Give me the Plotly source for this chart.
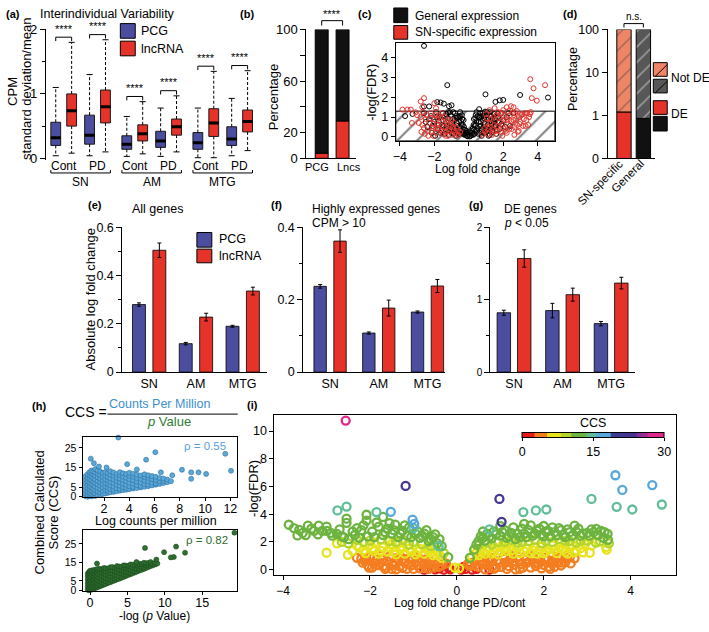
import plotly.graph_objects as go

W, H = 709, 632
FONT = "Liberation Sans, Arial, Helvetica, sans-serif"
BLUE = "#4b4d9e"
RED = "#e5332a"
BLACK = "#111111"
SALMON = "#ef8567"
GREY = "#575757"

# ---------------- (a) interindividual variability: box statistics ----------------
a_conditions = ["Cont", "PD", "Cont", "PD", "Cont", "PD"]
a_regions = ["SN", "AM", "MTG"]
a_pcg_lower = [0.04, 0.04, 0.03, 0.03, 0.01, 0.04]
a_pcg_q1 = [0.20, 0.22, 0.14, 0.17, 0.14, 0.20]
a_pcg_median = [0.32, 0.36, 0.22, 0.27, 0.24, 0.30]
a_pcg_q3 = [0.56, 0.67, 0.35, 0.42, 0.40, 0.49]
a_pcg_upper = [1.10, 1.30, 0.65, 0.78, 0.78, 0.93]
a_lnc_lower = [0.08, 0.10, 0.07, 0.10, 0.01, 0.12]
a_lnc_q1 = [0.50, 0.55, 0.27, 0.36, 0.34, 0.41]
a_lnc_median = [0.74, 0.80, 0.38, 0.49, 0.55, 0.57]
a_lnc_q3 = [1.00, 1.06, 0.52, 0.61, 0.77, 0.75]
a_lnc_upper = [1.80, 1.84, 0.88, 0.97, 1.35, 1.36]
a_significance = ["****", "****", "****", "****", "****", "****"]

# ---------------- (b) percentage of SN-specific expression ----------------
b_categories = ["PCG", "Lncs"]
b_sn_specific = [4, 29]
b_general = [96, 71]

# ---------------- (c) volcano, general vs SN-specific ----------------
c_fdr_threshold = 1.3
c_general_points = [
    (-2.6, 4.61), (-1.25, 2.62), (0.97, 2.15), (2.98, 2.12), (4.6, 1.99), (1.55, 1.77), (1.8, 1.85),
    (2.0, 1.87), (-2.6, 1.54), (-2.3, 1.54), (-1.83, 1.76), (-1.64, 1.74), (-1.45, 1.68), (-1.15, 1.55),
    (-1.0, 1.6), (-3.7, 1.05), (-3.27, 1.16), (0.6, 1.4),
    (-0.1, 0.05), (0.1, 0.05), (-0.2, 0.2), (0.2, 0.2), (-0.3, 0.35), (0.3, 0.35), (-0.35, 0.6),
    (0.35, 0.55), (-0.45, 0.8), (0.45, 0.8), (-0.5, 0.5), (0.5, 0.45), (-0.6, 1.0), (0.6, 1.0),
    (-0.65, 0.3), (0.65, 0.3), (-0.7, 0.7), (0.7, 0.75), (-0.8, 1.2), (0.8, 1.2), (-0.85, 0.45),
    (0.85, 0.5), (-0.9, 0.9), (0.9, 0.95), (-1.0, 0.2), (1.0, 0.25), (-1.05, 1.1), (1.05, 1.1),
    (-1.1, 0.65), (1.1, 0.6), (-1.2, 1.25), (1.2, 1.25), (-1.3, 0.4), (1.3, 0.4), (-1.35, 0.9),
    (1.35, 0.9), (-1.5, 1.2), (1.5, 1.15), (-1.55, 0.6), (1.55, 0.6), (-1.7, 1.0), (1.7, 1.0),
    (-1.8, 0.35), (1.8, 0.4), (-1.9, 1.25), (1.9, 1.2), (-2.0, 0.75), (2.0, 0.8), (-2.2, 1.05),
    (2.2, 1.0), (-2.4, 0.5), (2.4, 0.55), (-2.6, 1.2), (2.6, 1.2), (-0.25, 0.1), (0.25, 0.1),
    (-0.55, 0.15), (0.55, 0.15), (-0.4, 1.1), (0.4, 1.1), (-0.75, 0.05), (0.75, 0.05), (-1.15, 0.1),
    (1.6, 0.15), (-0.15, 0.3), (0.15, 0.3), (-0.95, 0.35), (0.95, 1.28), (-1.45, 0.55), (1.45, 0.75),
    (-1.65, 0.2), (1.25, 0.8), (-0.5, 1.25), (0.45, 1.25), (-0.3, 0.85), (0.3, 0.9),
    (-1.95, 0.05), (-1.75, 0.6), (-1.6, 0.3), (-1.4, 0.15), (-1.25, 0.55), (-1.2, 0.95), (-1.05, 0.4),
    (-0.98, 0.7), (-0.9, 0.15), (-0.82, 0.85), (-0.78, 0.4), (-0.72, 1.05), (-0.68, 0.55), (-0.62, 0.2),
    (-0.58, 0.78), (-0.52, 1.05), (-0.48, 0.3), (-0.42, 0.6), (-0.38, 0.9), (-0.33, 0.15), (-0.28, 0.5),
    (-0.22, 0.35), (-0.18, 0.1), (-0.12, 0.2), (-0.06, 0.02), (0.06, 0.02), (0.12, 0.2), (0.18, 0.1),
    (0.22, 0.4), (0.28, 0.6), (0.33, 0.15), (0.38, 0.95), (0.42, 0.6), (0.48, 0.3), (0.52, 1.05),
    (0.58, 0.75), (0.62, 0.2), (0.68, 0.55), (0.72, 1.05), (0.78, 0.4), (0.82, 0.85), (0.88, 0.2),
    (0.92, 0.65), (0.98, 0.4), (1.02, 0.95), (1.08, 0.3), (1.12, 0.85), (1.18, 0.5), (1.22, 0.1),
    (1.28, 1.05), (1.32, 0.65), (1.38, 0.25), (1.42, 1.2), (1.48, 0.5), (1.52, 0.9), (1.62, 0.35),
    (1.68, 1.2), (1.75, 0.7), (-1.85, 1.0), (-2.1, 0.55), (-2.3, 0.9), (-2.5, 0.75), (-2.15, 0.2),
    (-1.5, 0.85), (-1.3, 1.15), (-1.1, 1.25), (-0.9, 1.25), (-0.7, 0.95), (0.65, 1.2), (0.85, 1.05),
    (1.05, 1.25), (1.15, 0.05), (2.1, 0.5), (2.3, 1.2), (1.9, 0.65),
]
c_sn_specific_points = [
    (-3.85, 1.38), (-3.56, 1.38), (-3.37, 1.38), (-3.08, 1.24), (-2.79, 1.79), (-2.6, 1.96),
    (-2.7, 1.5), (-2.0, 1.7), (-1.9, 1.45), (-3.3, 0.7),
    (-2.8, 1.0), (-2.7, 0.6), (-2.5, 0.9), (-2.4, 0.3), (-2.3, 0.7), (-2.2, 1.2), (-2.1, 0.45),
    (-2.0, 0.9), (-1.9, 0.2), (-1.85, 0.6), (-1.75, 1.1), (-1.7, 0.35), (-1.6, 0.8), (-1.5, 0.15),
    (-1.45, 0.5), (-1.4, 1.0), (-1.3, 0.25), (-1.25, 0.7), (-1.2, 0.05), (-1.1, 0.4), (-1.0, 0.85),
    (-0.95, 0.1), (-0.9, 0.5), (-0.8, 0.2), (-0.7, 0.45), (-0.6, 0.1), (-0.5, 0.25), (-2.55, 0.15),
    (-2.05, 0.05), (-1.55, 1.2),
    (-2.6, 0.45), (-2.45, 1.1), (-2.35, 0.05), (-2.25, 0.95), (-2.15, 0.3), (-2.05, 0.65), (-1.95, 1.1),
    (-1.8, 0.45), (-1.65, 0.95), (-1.55, 0.3), (-1.4, 0.65), (-1.35, 0.05), (-1.2, 0.85), (-1.15, 0.3),
    (-1.05, 0.55), (-0.85, 0.7), (-0.75, 0.1), (-0.65, 0.3), (-2.9, 0.7), (-2.75, 0.25), (-2.65, 1.25),
    (-3.0, 1.1),
    (0.8, 0.1), (0.9, 0.4), (1.0, 0.7), (1.1, 0.15), (1.2, 0.5), (1.3, 0.9), (1.4, 0.2), (1.5, 0.6),
    (1.6, 1.1), (1.7, 0.3), (1.8, 0.75), (1.9, 1.2), (2.0, 0.45), (2.1, 0.9), (2.2, 0.2), (2.3, 0.65),
    (2.4, 1.1), (2.5, 0.4), (2.6, 0.85), (2.7, 1.2), (2.8, 0.6), (2.9, 1.0), (3.0, 0.75), (3.1, 1.15),
    (3.2, 0.9), (3.4, 1.2), (3.5, 1.0), (2.6, 1.5), (2.0, 1.35), (3.6, 1.25), (2.45, 1.55), (2.2, 1.5),
    (1.5, 1.45), (1.2, 1.35), (2.9, 0.3), (3.3, 0.55), (2.65, 0.1), (1.95, 0.05),
    (0.95, 0.25), (1.05, 0.95), (1.15, 0.4), (1.25, 0.7), (1.35, 0.1), (1.45, 1.0), (1.55, 0.3),
    (1.65, 0.55), (1.75, 0.95), (1.85, 0.25), (1.95, 0.6), (2.05, 1.05), (2.15, 0.3), (2.25, 0.85),
    (2.35, 0.4), (2.45, 0.8), (2.55, 1.2), (2.65, 0.5), (2.75, 0.9), (2.85, 0.25), (2.95, 0.65),
    (3.05, 1.1), (3.15, 0.55), (3.25, 1.2), (3.35, 0.85), (3.45, 0.6), (3.55, 1.15), (1.0, 1.15),
    (1.7, 1.25), (2.3, 1.3), (2.8, 1.3),
    (3.57, 2.92), (3.76, 2.46), (4.43, 2.62), (3.66, 1.96), (3.95, 1.83),
]

# ---------------- (d) DE fraction ----------------
d_categories = ["SN-specific", "General"]
d_de_pct = [1.2, 0.85]
d_not_de_pct = [98.8, 99.15]

# ---------------- (e)-(g) absolute log fold change ----------------
efg_regions = ["SN", "AM", "MTG"]
e_pcg = [0.280, 0.118, 0.190]
e_pcg_err = [0.007, 0.005, 0.004]
e_lnc = [0.505, 0.228, 0.336]
e_lnc_err = [0.030, 0.016, 0.016]
f_pcg = [0.237, 0.108, 0.166]
f_pcg_err = [0.005, 0.003, 0.003]
f_lnc = [0.362, 0.177, 0.238]
f_lnc_err = [0.031, 0.022, 0.018]
g_pcg = [0.82, 0.85, 0.67]
g_pcg_err = [0.035, 0.10, 0.03]
g_lnc = [1.57, 1.07, 1.23]
g_lnc_err = [0.12, 0.09, 0.08]

# ---------------- (h) CCS vs log CPM and vs -log p ----------------
h_rho_cpm = "ρ = 0.55"
h_rho_p = "ρ = 0.82"
h_cpm_columns = {
    0.55: [0.3, 1.8, 3.5, 5.2, 7.0, 8.8, 10.6], 0.7: [0.0, 1.0, 2.6, 4.3, 6.1, 7.9, 9.7, 11.5],
    0.85: [0.5, 2.0, 3.7, 5.5, 7.3, 9.1, 11.0, 12.6], 1.0: [0.2, 1.4, 3.1, 4.8, 6.6, 8.4, 10.3, 12.1, 13.4],
    1.15: [0.8, 2.4, 4.1, 5.9, 7.7, 9.5, 11.4, 13.0], 1.3: [0.4, 1.7, 3.4, 5.2, 7.0, 8.8, 10.7, 12.5, 14.2],
    1.5: [1.0, 2.7, 4.5, 6.3, 8.1, 9.9, 11.8, 13.4], 1.7: [0.9, 2.2, 3.9, 5.7, 7.5, 9.3, 11.2, 13.0],
    1.9: [1.4, 3.0, 4.8, 6.6, 8.4, 10.3, 12.2], 2.1: [1.7, 3.5, 5.3, 7.1, 9.0, 10.8, 12.6],
    2.3: [2.0, 3.0, 4.7, 6.5, 8.3, 10.1, 12.0], 2.5: [2.3, 4.0, 5.8, 7.6, 9.4, 11.3, 13.1],
    2.75: [2.5, 3.6, 5.3, 7.1, 8.9, 10.7, 12.4], 3.0: [2.8, 4.4, 6.2, 8.0, 9.8, 11.6],
    3.25: [3.1, 4.0, 5.7, 7.5, 9.3, 11.2, 12.6], 3.5: [3.4, 4.9, 6.7, 8.5, 10.3, 12.0],
    3.75: [3.6, 4.5, 6.2, 8.0, 9.8, 11.6], 4.0: [3.9, 5.4, 7.2, 9.0, 10.8, 12.3],
    4.3: [4.2, 5.0, 6.7, 8.5, 10.3, 11.8], 4.6: [4.5, 6.0, 7.8, 9.6, 11.3],
    4.9: [4.8, 5.6, 7.3, 9.1, 10.9], 5.2: [5.1, 6.5, 8.3, 10.1, 11.5], 5.5: [5.4, 6.2, 7.9, 9.7, 11.0],
    5.8: [5.8, 7.2, 9.0, 10.6], 6.1: [6.2, 7.0, 8.6, 10.2], 6.4: [6.6, 8.0, 9.6], 6.7: [7.0, 8.2, 9.4],
    7.0: [7.5, 8.8], 7.3: [8.0],
}
h_cpm_outliers = [(3.13, 30.3), (6.06, 22.8), (5.33, 19.0), (0.95, 19.5), (1.2, 17.2), (3.83, 16.7),
                  (8.17, 13.8), (8.9, 12.5), (9.48, 12.5), (10.08, 11.7), (8.9, 9.2), (11.6, 22.0),
                  (12.05, 13.3), (2.2, 15.0), (4.6, 14.0), (6.5, 12.5), (7.4, 11.0), (1.6, 15.5)]
h_p_columns = {
    -0.3: [0.3, 2.0, 3.8, 5.6, 7.4, 9.0], -0.15: [0.0, 1.1, 2.9, 4.7, 6.5, 8.3, 9.8],
    0.0: [0.5, 2.0, 3.8, 5.6, 7.4, 9.2, 10.5], 0.15: [0.3, 1.4, 3.2, 5.0, 6.8, 8.6, 10.2],
    0.3: [0.6, 2.4, 4.2, 6.0, 7.8, 9.6, 10.8], 0.5: [0.9, 1.8, 3.6, 5.4, 7.2, 9.0, 10.5],
    0.7: [1.2, 2.8, 4.6, 6.4, 8.2, 10.0, 11.2], 0.9: [1.5, 2.3, 4.1, 5.9, 7.7, 9.5, 10.9],
    1.1: [1.8, 3.3, 5.1, 6.9, 8.7, 10.5, 11.6], 1.35: [2.2, 3.0, 4.7, 6.5, 8.3, 10.1, 11.5],
    1.6: [2.6, 4.0, 5.8, 7.6, 9.4, 11.2], 1.85: [3.0, 3.8, 5.4, 7.2, 9.0, 10.8, 12.0],
    2.1: [3.4, 4.8, 6.6, 8.4, 10.2, 11.8], 2.4: [3.9, 4.6, 6.3, 8.1, 9.9, 11.7],
    2.7: [4.3, 5.6, 7.4, 9.2, 11.0, 12.4], 3.0: [4.8, 5.5, 7.2, 9.0, 10.8, 12.5],
    3.3: [5.3, 6.6, 8.4, 10.2, 12.0], 3.6: [5.8, 6.4, 8.1, 9.9, 11.7, 13.0],
    3.9: [6.2, 7.5, 9.3, 11.1, 12.8], 4.2: [6.7, 7.3, 9.0, 10.8, 12.6],
    4.5: [7.2, 8.5, 10.3, 12.1, 13.4], 4.8: [7.7, 8.3, 10.0, 11.8, 13.3], 5.1: [8.2, 9.5, 11.3, 13.1],
    5.4: [8.6, 9.3, 11.0, 12.8, 13.9], 5.7: [9.1, 10.4, 12.2, 13.8], 6.0: [9.6, 10.3, 12.0, 13.6],
    6.3: [10.1, 11.4, 13.2, 14.2], 6.6: [10.6, 11.3, 13.0, 14.3], 6.9: [11.0, 12.3, 14.0],
    7.2: [11.5, 12.2, 13.9, 14.8], 7.5: [12.0, 13.2, 14.6], 7.8: [12.5, 13.3, 14.7],
    8.1: [13.0, 14.2, 15.2], 8.4: [13.4, 14.1], 8.7: [13.9, 14.8], 9.0: [14.4],
}
h_p_outliers = [(19.3, 31.0), (7.35, 22.8), (11.5, 23.5), (9.9, 20.5), (12.7, 20.2), (11.2, 17.9),
                (10.8, 17.7), (8.86, 16.5), (0.93, 14.4), (6.2, 15.2)]

# ---------------- (i) volcano coloured by CCS: (log FC, -log FDR, CCS) ----------------
i_points = [
    # red
    (-0.5, 0.02, 1), (-0.4, 0.1, 1), (-0.3, 0.0, 1), (-0.2, 0.15, 1), (-0.15, 0.02, 1), (0.1, 0.0, 1),
    (0.15, 0.2, 1), (0.2, 0.05, 1), (0.35, 0.0, 1), (0.45, 0.05, 1), (-0.75, 0.0, 1), (0.75, 0.0, 1),
    # orange
    (-2.2, 0.8, 4), (-2.17, 0.5, 4), (-2.05, 0.3, 4), (-2.0, 0.9, 4), (-1.9, 0.45, 4), (-1.85, 0.7, 4),
    (-1.75, 1.0, 4), (-1.7, 0.25, 4), (-1.6, 0.6, 4), (-1.55, 0.95, 4), (-1.5, 0.05, 4), (-1.45, 0.35, 4),
    (-1.35, 0.7, 4), (-1.3, 0.95, 4), (-1.25, 0.12, 4), (-1.2, 0.5, 4), (-1.1, 0.82, 4), (-1.05, 0.3, 4),
    (-1.0, 0.05, 4), (-0.95, 0.95, 4), (-0.9, 0.6, 4), (-0.85, 0.1, 4), (-0.75, 0.35, 4), (-0.7, 0.75, 4),
    (-0.6, 0.45, 4), (-0.55, 0.15, 4), (-0.45, 0.55, 4), (-0.35, 0.3, 4), (-0.25, 0.45, 4),
    (-1.65, 0.05, 4), (-1.4, 0.02, 4), (-1.15, 0.05, 4), (-0.65, 0.05, 4), (-2.3, 0.85, 4), (-1.95, 0.15, 4),
    (0.25, 0.4, 4), (0.3, 0.25, 4), (0.4, 0.55, 4), (0.5, 0.2, 4), (0.55, 0.9, 4), (0.6, 0.6, 4),
    (0.7, 0.35, 4), (0.8, 0.85, 4), (0.85, 0.05, 4), (0.9, 0.15, 4), (1.0, 0.5, 4), (1.1, 0.8, 4),
    (1.15, 0.05, 4), (1.2, 0.25, 4), (1.25, 1.0, 4), (1.3, 0.6, 4), (1.4, 0.95, 4), (1.45, 0.05, 4),
    (1.5, 0.4, 4), (1.6, 0.75, 4), (1.7, 0.15, 4), (1.75, 1.0, 4), (1.8, 0.5, 4), (1.9, 0.9, 4),
    (1.95, 0.1, 4), (2.0, 0.35, 4), (2.1, 0.7, 4), (2.2, 1.0, 4), (2.25, 0.2, 4), (2.3, 0.5, 4),
    (2.4, 0.85, 4), (2.5, 0.55, 4), (2.6, 0.9, 4), (2.71, 0.82, 4), (2.4, 0.3, 4), (0.65, 0.02, 4),
    (1.35, 0.02, 4), (2.15, 0.05, 4),
    (-2.12, 0.62, 4), (-2.02, 0.15, 4), (-1.92, 0.85, 4), (-1.82, 0.32, 4), (-1.72, 0.72, 4),
    (-1.62, 0.15, 4), (-1.52, 0.78, 4), (-1.42, 0.5, 4), (-1.32, 0.25, 4), (-1.22, 0.78, 4),
    (-1.12, 0.4, 4), (-1.02, 0.7, 4), (-0.92, 0.32, 4), (-0.82, 0.55, 4), (-0.72, 0.18, 4),
    (-0.62, 0.62, 4), (-0.52, 0.38, 4), (-0.42, 0.2, 4), (-0.32, 0.55, 4),
    (0.32, 0.45, 4), (0.42, 0.3, 4), (0.52, 0.6, 4), (0.62, 0.4, 4), (0.72, 0.75, 4), (0.82, 0.25, 4),
    (0.92, 0.6, 4), (1.02, 0.2, 4), (1.12, 0.5, 4), (1.22, 0.7, 4), (1.32, 0.35, 4), (1.42, 0.7, 4),
    (1.52, 0.15, 4), (1.62, 0.5, 4), (1.72, 0.85, 4), (1.82, 0.25, 4), (1.92, 0.6, 4), (2.02, 0.85, 4),
    (2.12, 0.2, 4), (2.22, 0.65, 4), (2.32, 0.9, 4), (2.42, 0.5, 4), (2.52, 0.8, 4), (2.62, 0.45, 4),
    (2.18, 0.45, 4), (1.88, 0.4, 4), (1.58, 0.95, 4), (1.08, 0.95, 4), (0.78, 0.55, 4), (-0.88, 0.85, 4),
    (-1.38, 0.85, 4), (-1.78, 0.5, 4), (-2.08, 0.75, 4),
    # yellow
    (-0.05, 0.15, 7), (0.05, 0.1, 7),
    (-3.0, 1.22, 7), (-2.76, 1.9, 7), (-2.51, 1.07, 7), (-2.4, 1.35, 7), (-2.25, 1.6, 7), (-2.1, 1.2, 7),
    (-2.0, 1.8, 7), (-1.9, 1.35, 7), (-1.8, 1.15, 7), (-1.7, 1.6, 7), (-1.6, 1.3, 7), (-1.5, 1.85, 7),
    (-1.4, 1.1, 7), (-1.3, 1.45, 7), (-1.2, 1.15, 7), (-1.15, 1.75, 7), (-1.05, 1.3, 7), (-0.95, 1.1, 7),
    (-0.85, 1.5, 7), (-0.75, 1.15, 7), (-0.65, 1.35, 7), (-0.55, 1.05, 7), (-0.45, 1.25, 7), (-0.35, 0.85, 7),
    (-1.35, 1.9, 7), (-1.9, 1.95, 7),
    (0.35, 0.95, 7), (0.45, 1.2, 7), (0.55, 1.45, 7), (0.65, 1.15, 7), (0.75, 1.6, 7), (0.85, 1.3, 7),
    (0.95, 1.1, 7), (1.05, 1.75, 7), (1.15, 1.35, 7), (1.3, 1.15, 7), (1.4, 1.6, 7), (1.55, 1.3, 7),
    (1.65, 1.8, 7), (1.75, 1.4, 7), (1.85, 1.15, 7), (1.95, 1.65, 7), (2.05, 1.3, 7), (2.2, 1.75, 7),
    (2.3, 1.2, 7), (2.45, 1.5, 7), (2.55, 1.15, 7), (2.65, 1.8, 7), (2.75, 1.4, 7), (2.9, 1.25, 7),
    (3.06, 1.22, 7), (3.1, 1.75, 7), (3.44, 1.64, 7), (3.45, 1.45, 7), (2.95, 1.85, 7), (1.2, 1.95, 7),
    (2.4, 1.95, 7),
    (-2.3, 1.75, 7), (-2.15, 1.4, 7), (-1.95, 1.55, 7), (-1.75, 1.35, 7), (-1.55, 1.6, 7), (-1.45, 1.3, 7),
    (-1.25, 1.65, 7), (-1.1, 1.5, 7), (-0.9, 1.3, 7), (-0.7, 1.55, 7), (-0.6, 1.25, 7), (-0.5, 1.5, 7),
    (-0.4, 1.05, 7), (0.4, 1.4, 7), (0.5, 1.05, 7), (0.6, 1.3, 7), (0.7, 1.4, 7), (0.8, 1.15, 7),
    (0.9, 1.55, 7), (1.0, 1.35, 7), (1.1, 1.55, 7), (1.25, 1.4, 7), (1.35, 1.8, 7), (1.45, 1.2, 7),
    (1.6, 1.55, 7), (1.7, 1.2, 7), (1.8, 1.6, 7), (1.9, 1.4, 7), (2.0, 1.2, 7), (2.1, 1.5, 7),
    (2.25, 1.45, 7), (2.35, 1.6, 7), (2.5, 1.3, 7), (2.6, 1.55, 7), (2.7, 1.25, 7), (2.85, 1.55, 7),
    # yellow-green
    (-2.65, 2.0, 9.5), (-2.3, 2.15, 9.5), (-2.0, 2.1, 9.5), (-1.75, 2.2, 9.5), (-1.55, 2.05, 9.5),
    (-1.25, 2.15, 9.5), (-1.0, 2.0, 9.5), (-0.8, 1.85, 9.5), (-0.6, 1.7, 9.5), (-0.3, 1.2, 9.5),
    (0.5, 1.75, 9.5), (0.7, 1.95, 9.5), (0.95, 2.0, 9.5), (1.25, 2.15, 9.5), (1.5, 2.0, 9.5),
    (1.8, 2.15, 9.5), (2.05, 2.05, 9.5), (2.35, 2.2, 9.5), (2.6, 2.05, 9.5), (2.85, 2.1, 9.5),
    (3.3, 2.05, 9.5), (3.5, 1.9, 9.5), (-2.5, 1.9, 9.5), (-2.15, 2.0, 9.5), (-1.4, 2.0, 9.5),
    (-1.1, 1.8, 9.5), (0.8, 1.8, 9.5), (1.1, 2.0, 9.5), (1.4, 1.95, 9.5), (1.65, 2.05, 9.5),
    (1.95, 1.9, 9.5), (2.2, 2.0, 9.5), (2.5, 2.1, 9.5), (2.75, 1.95, 9.5), (3.0, 2.1, 9.5), (3.2, 1.95, 9.5),
    # green
    (-3.87, 3.24, 12), (-3.63, 2.87, 12), (-3.67, 2.47, 12), (-3.48, 2.5, 12), (-3.43, 3.17, 12),
    (-3.29, 2.8, 12), (-3.18, 3.17, 12), (-3.1, 2.8, 12), (-2.99, 2.8, 12), (-2.87, 2.45, 12),
    (-2.76, 2.57, 12), (-2.6, 2.33, 12), (-2.49, 2.2, 12), (-2.54, 3.68, 12), (-2.54, 3.38, 12),
    (-2.08, 3.96, 12), (-2.08, 3.54, 12), (-2.35, 2.5, 12), (-2.2, 2.85, 12), (-2.05, 2.4, 12),
    (-1.95, 2.75, 12), (-1.8, 3.1, 12), (-1.7, 2.5, 12), (-1.6, 2.95, 12), (-1.5, 2.6, 12),
    (-1.42, 3.25, 12), (-1.35, 2.35, 12), (-1.25, 2.8, 12), (-1.15, 2.45, 12), (-1.1, 3.05, 12),
    (-0.95, 2.6, 12), (-0.85, 2.3, 12), (-0.75, 2.6, 12), (-0.65, 2.05, 12), (-0.55, 2.35, 12),
    (-0.45, 1.9, 12), (-0.2, 0.9, 12), (-1.7, 3.8, 12), (-2.3, 3.0, 12),
    (0.3, 0.85, 12), (0.4, 1.45, 12), (0.5, 2.05, 12), (0.6, 2.3, 12), (0.7, 2.6, 12), (0.8, 2.25, 12),
    (0.85, 2.75, 12), (1.0, 2.45, 12), (1.1, 2.85, 12), (1.2, 2.4, 12), (1.3, 3.05, 12), (1.4, 2.6, 12),
    (1.5, 2.95, 12), (1.6, 2.35, 12), (1.7, 3.2, 12), (1.8, 2.6, 12), (1.9, 2.95, 12), (2.0, 2.4, 12),
    (2.1, 2.8, 12), (2.2, 3.05, 12), (2.3, 2.5, 12), (2.4, 2.85, 12), (2.5, 2.35, 12), (2.6, 2.7, 12),
    (2.71, 3.17, 12), (2.75, 2.75, 12), (2.85, 2.45, 12), (3.0, 2.65, 12), (3.1, 2.9, 12),
    (3.21, 2.94, 12), (3.32, 2.8, 12), (3.47, 2.58, 12), (3.38, 2.3, 12), (3.48, 2.15, 12), (1.35, 2.2, 12),
    (-3.75, 3.0, 12), (-3.55, 2.65, 12), (-3.35, 2.95, 12), (-3.2, 2.55, 12), (-3.0, 3.1, 12),
    (-2.9, 2.65, 12), (-2.7, 2.9, 12), (-2.65, 2.4, 12), (-2.4, 2.75, 12), (-2.25, 2.3, 12),
    (-2.15, 3.2, 12), (-1.9, 2.35, 12), (-1.85, 3.4, 12), (-1.65, 2.7, 12), (-1.55, 3.35, 12),
    (-1.45, 2.85, 12), (-1.3, 2.6, 12), (-1.2, 3.2, 12), (-1.05, 2.35, 12), (-0.9, 2.75, 12),
    (-0.8, 2.45, 12), (-0.7, 2.85, 12), (-0.6, 2.2, 12), (-0.5, 2.55, 12), (-0.4, 2.2, 12), (-0.35, 1.7, 12),
    (0.45, 1.8, 12), (0.55, 2.4, 12), (0.65, 2.1, 12), (0.75, 2.4, 12), (0.9, 2.55, 12), (1.05, 2.7, 12),
    (1.15, 2.3, 12), (1.25, 2.65, 12), (1.45, 2.35, 12), (1.55, 2.6, 12), (1.65, 2.85, 12), (1.75, 2.45, 12),
    (1.85, 2.8, 12), (1.95, 2.55, 12), (2.05, 2.75, 12), (2.15, 2.4, 12), (2.25, 2.7, 12), (2.35, 3.0, 12),
    (2.45, 2.5, 12), (2.55, 2.9, 12), (2.65, 2.45, 12), (2.8, 2.95, 12), (2.9, 2.6, 12), (3.05, 2.45, 12),
    (3.15, 2.7, 12), (3.25, 2.5, 12), (3.4, 2.7, 12), (1.0, 3.15, 12), (1.55, 3.3, 12), (2.0, 3.15, 12),
    (0.6, 2.75, 12),
    # teal
    (-2.75, 4.27, 14.5), (-2.54, 4.55, 14.5), (-1.85, 4.15, 14), (1.53, 4.15, 14.5), (1.82, 4.27, 14.5),
    (2.06, 4.34, 14.5), (3.1, 5.1, 14), (3.68, 4.53, 14.5), (4.04, 4.34, 14.5), (4.72, 4.7, 14.5),
    (-0.42, 1.69, 14.5), (0.75, 2.9, 15), (-1.0, 3.0, 15),
    # light blue
    (-1.52, 4.17, 18), (-1.02, 3.61, 17.5), (3.65, 6.81, 18), (3.81, 5.75, 18), (4.5, 6.1, 17.5),
    (-0.98, 3.3, 16.5),
    # indigo
    (-1.18, 6.04, 22), (0.98, 5.1, 22), (1.03, 3.45, 21.5),
    # magenta
    (-2.56, 10.75, 29),
]
i_ccs_ticks = [0, 15, 30]

# ---------------- helpers ----------------
def xdom(a, b):
    return [a / W, b / W]

def ydom(top, bottom):
    return [1 - bottom / H, 1 - top / H]

def px(x):
    return x / W

def py(y):
    return 1 - y / H

def amap(dom, rng, v):
    return dom[0] + (v - rng[0]) / (rng[1] - rng[0]) * (dom[1] - dom[0])

anns = []
shapes = []

def T(text, x, y, size=12, color="black", xanchor="center", yanchor="middle", angle=0, xref="paper", yref="paper"):
    anns.append(dict(text=text, x=(x / W if xref == "paper" else x), y=(1 - y / H if yref == "paper" else y),
                     xref=xref, yref=yref, showarrow=False, xanchor=xanchor, yanchor=yanchor,
                     textangle=angle, font=dict(size=size, color=color, family=FONT)))

def L(x0, y0, x1, y1, color="black", width=1):
    shapes.append(dict(type="line", xref="paper", yref="paper", x0=px(x0), y0=py(y0), x1=px(x1), y1=py(y1),
                       line=dict(color=color, width=width)))

def R(x0, y0, x1, y1, fill, line="black"):
    shapes.append(dict(type="rect", xref="paper", yref="paper", x0=px(x0), y0=py(y0), x1=px(x1), y1=py(y1),
                       fillcolor=fill, line=dict(color=line, width=1)))

def axis(dom, rng, anchor, **kw):
    d = dict(domain=dom, range=rng, anchor=anchor, showgrid=False, zeroline=False, showline=True,
             linecolor="black", linewidth=1, ticks="outside", ticklen=4, tickwidth=1, tickcolor="black",
             tickfont=dict(size=12, family=FONT, color="black"), fixedrange=True, tickangle=0)
    d.update(kw)
    return d

fig = go.Figure()
layout = dict(width=W, height=H, margin=dict(l=0, r=0, t=0, b=0), paper_bgcolor="white",
              plot_bgcolor="rgba(0,0,0,0)", showlegend=False, barmode="overlay", boxmode="overlay",
              font=dict(family=FONT, size=12, color="black"))

# ================= (a) =================
XA, RXA = xdom(43, 255), [-0.53, 5.7]
YA, RYA = ydom(23, 157), [-0.03, 2.0]
layout["xaxis"] = axis(XA, RXA, "y", showline=False, ticks="", showticklabels=False)
layout["yaxis"] = axis(YA, RYA, "x", tickvals=[0, 1, 2], ticklen=5, tickfont=dict(size=13, family=FONT),
                       minor=dict(tickvals=[0.5, 1.5], ticklen=3, ticks="outside", tickcolor="black"))
a_pos = [0, 1, 2.1, 3.1, 4.2, 5.2]
off, bw, cap = 0.235, 0.29, 0.09
for sign, col, lo, q1, med, q3, hi in [(-1, BLUE, a_pcg_lower, a_pcg_q1, a_pcg_median, a_pcg_q3, a_pcg_upper),
                                        (1, RED, a_lnc_lower, a_lnc_q1, a_lnc_median, a_lnc_q3, a_lnc_upper)]:
    pos = [p + sign * off for p in a_pos]
    wx, wy, cx, cy, mx, my = [], [], [], [], [], []
    for p, l, a, m, b, h in zip(pos, lo, q1, med, q3, hi):
        wx += [p, p, None, p, p, None]
        wy += [b, h, None, a, l, None]
        cx += [p - cap, p + cap, None, p - cap, p + cap, None]
        cy += [h, h, None, l, l, None]
        mx += [p - bw / 2, p + bw / 2, None]
        my += [m, m, None]
    fig.add_trace(go.Scatter(x=wx, y=wy, mode="lines", line=dict(color="black", width=1, dash="3px,2px"),
                             xaxis="x", yaxis="y", hoverinfo="skip"))
    fig.add_trace(go.Scatter(x=cx, y=cy, mode="lines", line=dict(color="black", width=1),
                             xaxis="x", yaxis="y", hoverinfo="skip"))
    fig.add_trace(go.Box(x=pos, q1=q1, median=med, q3=q3, lowerfence=q1, upperfence=q3, width=bw,
                         fillcolor=col, line=dict(color="#1a1a1a", width=1), whiskerwidth=0,
                         boxpoints=False, xaxis="x", yaxis="y", hoverinfo="skip"))
    fig.add_trace(go.Scatter(x=mx, y=my, mode="lines", line=dict(color="black", width=3),
                             xaxis="x", yaxis="y", hoverinfo="skip"))
for i, p in enumerate(a_pos):
    yb = max(a_pcg_upper[i], a_lnc_upper[i]) + 0.08
    shapes.append(dict(type="path", xref="x", yref="y",
                       path=f"M {p-off},{yb-0.06} L {p-off},{yb} L {p+off},{yb} L {p+off},{yb-0.06}",
                       line=dict(color="black", width=1)))
    anns.append(dict(text=a_significance[i], x=p, y=yb + 0.01, xref="x", yref="y", showarrow=False,
                     yanchor="bottom", font=dict(size=11, family=FONT)))
    T(a_conditions[i], p, 163, size=12, xref="x")
for g, reg in enumerate(a_regions):
    x0 = amap(XA, RXA, a_pos[2 * g] - off - bw / 2) * W
    x1 = amap(XA, RXA, a_pos[2 * g + 1] + off + bw / 2) * W
    L(x0, 170, x1, 170)
    L(x0, 170, x0, 167)
    L(x1, 170, x1, 167)
    T(reg, (x0 + x1) / 2, 179, size=12)
T("<b>(a)</b>", 10, 7, size=11)
T("Interindividual Variability", 105, 7, size=12.5)
T("CPM", 10, 86, size=13, angle=-90)
T("standard deviation/mean", 23, 84, size=13, angle=-90)
R(118, 17, 133, 32, BLUE)
R(118, 35, 133, 50, RED)
T("PCG", 137, 25, size=12.5, xanchor="left")
T("lncRNA", 137, 43, size=12.5, xanchor="left")

# ================= (b) =================
XB, RXB = xdom(305, 355), [-0.738, 1.643]
YB, RYB = ydom(23, 155), [0, 100]
layout["xaxis2"] = axis(XB, RXB, "y2", ticks="", showticklabels=False)
layout["yaxis2"] = axis(YB, RYB, "x2", tickvals=[0, 20, 40, 60, 80, 100],
                        ticktext=["0", "20", "", "60", "", "100"], ticklen=5, tickfont=dict(size=13, family=FONT))
fig.add_trace(go.Bar(x=[0, 1], y=b_sn_specific, width=0.62, marker=dict(color=RED, line=dict(color="black", width=1)),
                     xaxis="x2", yaxis="y2", hoverinfo="skip"))
fig.add_trace(go.Bar(x=[0, 1], y=b_general, base=b_sn_specific, width=0.62,
                     marker=dict(color=BLACK, line=dict(color="black", width=1)), xaxis="x2", yaxis="y2",
                     hoverinfo="skip"))
bx0, bx1 = amap(XB, RXB, 0) * W, amap(XB, RXB, 1) * W
T(b_categories[0], bx0 + 9, 164, size=11, xanchor="right")
T(b_categories[1], bx1 - 8, 164, size=11, xanchor="left")
L(bx0, 14, bx1, 14); L(bx0, 14, bx0, 19); L(bx1, 14, bx1, 19)
T("****", (bx0 + bx1) / 2, 7, size=11)
T("<b>(b)</b>", 245, 7, size=11)
T("Percentage", 272, 92, size=13, angle=-90)

# ================= (c) =================
XC, RXC = xdom(395, 555), [-4.24, 5.0]
YC, RYC = ydom(37, 137), [-0.2, 4.75]
layout["xaxis3"] = axis(XC, RXC, "y3", mirror=True, tickvals=[-4, -2, 0, 2, 4], tickfont=dict(size=12.5, family=FONT))
layout["yaxis3"] = axis(YC, RYC, "x3", mirror=True, tickvals=[0, 1, 2, 3, 4], tickfont=dict(size=12.5, family=FONT))
fig.add_trace(go.Scatter(x=[RXC[0], RXC[1], RXC[1], RXC[0], RXC[0]],
                         y=[RYC[0], RYC[0], c_fdr_threshold, c_fdr_threshold, RYC[0]],
                         mode="lines", fill="toself", fillcolor="white",
                         fillpattern=dict(shape="/", fgcolor="black", bgcolor="white", size=14, solidity=0.14),
                         line=dict(color="black", width=1), xaxis="x3", yaxis="y3", hoverinfo="skip"))
fig.add_trace(go.Scatter(x=[p[0] for p in c_general_points], y=[p[1] for p in c_general_points], mode="markers",
                         marker=dict(symbol="circle-open", size=5, color="black", line=dict(width=1)),
                         xaxis="x3", yaxis="y3", hoverinfo="skip"))
fig.add_trace(go.Scatter(x=[p[0] for p in c_sn_specific_points], y=[p[1] for p in c_sn_specific_points],
                         mode="markers", marker=dict(symbol="circle-open", size=5, color=RED, line=dict(width=1)),
                         xaxis="x3", yaxis="y3", hoverinfo="skip"))
T("<b>(c)</b>", 364, 7, size=11)
R(393, 1, 407, 16, BLACK)
R(393, 19, 407, 33, RED)
T("General expression", 412, 9, size=12, xanchor="left")
T("SN-specific expression", 412, 26, size=12, xanchor="left")
T("-log(FDR)", 371, 87, size=13, angle=-90)
T("Log fold change", 478, 166, size=12)

# ================= (d) =================
XD, RXD = xdom(608, 656), [-0.846, 1.615]
YD, RYD = ydom(23, 155), [-1, 2]
layout["xaxis4"] = axis(XD, RXD, "y4", ticks="", showticklabels=False)
layout["yaxis4"] = axis(YD, RYD, "x4", type="log", tickvals=[0.1, 1, 10, 100], ticktext=["0", "1", "10", "100"],
                        ticklen=5, tickfont=dict(size=12.5, family=FONT))
fig.add_trace(go.Bar(x=[0, 1], y=d_de_pct, width=0.74,
                     marker=dict(color=[RED, BLACK], line=dict(color="black", width=1)),
                     xaxis="x4", yaxis="y4", hoverinfo="skip"))
fig.add_trace(go.Bar(x=[0, 1], y=d_not_de_pct, base=d_de_pct, width=0.74,
                     marker=dict(color=[SALMON, GREY], line=dict(color="black", width=1),
                                 pattern=dict(shape="/", fgcolor="black", size=11, solidity=0.12)),
                     xaxis="x4", yaxis="y4", hoverinfo="skip"))
dx0, dx1 = amap(XD, RXD, 0) * W, amap(XD, RXD, 1) * W
L(dx0, 17, dx1, 17); L(dx0, 17, dx0, 21); L(dx1, 17, dx1, 21)
T("n.s.", (dx0 + dx1) / 2, 10, size=10)
T("<b>(d)</b>", 570, 7, size=11)
T("Percentage", 573, 74, size=12.5, angle=-90)
T(d_categories[0], 600, 180, size=11.5, angle=-45)
T(d_categories[1], 628, 173, size=11.5, angle=-45)
R(654, 57, 668, 71, SALMON)
L(656, 71, 668, 59)
R(654, 74, 668, 88, GREY)
L(656, 88, 668, 76)
R(654, 96, 668, 110, RED)
R(654, 112, 668, 127, BLACK)
T("Not DE", 669.5, 73, size=12, xanchor="left")
T("DE", 669.5, 110, size=12, xanchor="left")

# ================= (e) (f) (g) =================
def bar_panel(n, XD_, RXD_, YD_, RYD_, pcg, pcg_err, lnc, lnc_err, offv, width, yticks, minor, tsize=12.5):
    layout[f"xaxis{n}"] = axis(XD_, RXD_, f"y{n}", ticks="", tickvals=[0, 1, 2], ticktext=efg_regions,
                               tickfont=dict(size=12.5, family=FONT))
    layout[f"yaxis{n}"] = axis(YD_, RYD_, f"x{n}", tickvals=yticks, ticklen=5, tickfont=dict(size=tsize, family=FONT),
                               minor=dict(tickvals=minor, ticklen=3, ticks="outside", tickcolor="black"))
    for sign, col, vals, errs in [(-1, BLUE, pcg, pcg_err), (1, RED, lnc, lnc_err)]:
        fig.add_trace(go.Bar(x=[i + sign * offv for i in range(3)], y=vals, width=width,
                             marker=dict(color=col, line=dict(color="black", width=0.8)),
                             error_y=dict(type="data", array=errs, color="black", thickness=1, width=2),
                             xaxis=f"x{n}", yaxis=f"y{n}", hoverinfo="skip"))

XE, RXE = xdom(120, 266), [-0.574, 2.53]
XF, RXF = xdom(302, 445), [-0.55, 2.37]
XG, RXG = xdom(490, 636), [-0.49, 2.5]
YEFG = ydom(225.7, 374)
bar_panel(5, XE, RXE, YEFG, [0, 0.6], e_pcg, e_pcg_err, e_lnc, e_lnc_err, 0.218, 0.277, [0, 0.2, 0.4, 0.6],
          [0.1, 0.3, 0.5])
bar_panel(6, XF, RXF, YEFG, [0, 0.4], f_pcg, f_pcg_err, f_lnc, f_lnc_err, 0.204, 0.255, [0, 0.2, 0.4], [0.1, 0.3])
bar_panel(7, XG, RXG, YEFG, [0, 2], g_pcg, g_pcg_err, g_lnc, g_lnc_err, 0.21, 0.277, [0, 1, 2], [0.5, 1.5],
          tsize=10)
T("<b>(e)</b>", 93, 203, size=11)
T("All genes", 155, 207, size=12.5)
T("Absolute log fold change", 88, 300, size=13, angle=-90)
R(195, 231, 210, 246, BLUE)
R(195, 248, 210, 262, RED)
T("PCG", 215, 238, size=12.5, xanchor="left")
T("lncRNA", 215, 255, size=12.5, xanchor="left")
T("<b>(f)</b>", 275, 203, size=11)
T("Highly expressed genes", 309, 207, size=12, xanchor="left")
T("CPM &gt; 10", 309, 221, size=12, xanchor="left")
T("<b>(g)</b>", 476, 203, size=11)
T("DE genes", 502, 207, size=12, xanchor="left")
T("<i>p</i> &lt; 0.05", 502, 221, size=12, xanchor="left")

# ================= (h) =================
XH1, RXH1 = xdom(80, 235), [0.3, 12.5]
YH1, RYH1 = ydom(440, 502), [-0.15, 30.8]
XH2, RXH2 = xdom(80, 235), [-1.0, 19.6]
YH2, RYH2 = ydom(536, 598), [-0.3, 32.3]
hfont = dict(size=10.5, family=FONT)
layout["xaxis8"] = axis(XH1, RXH1, "y8", mirror=True, tickvals=[2, 4, 6, 8, 10, 12], tickfont=dict(size=12.5, family=FONT),
                        ticklen=3, ticklabelstandoff=-3)
layout["yaxis8"] = axis(YH1, RYH1, "x8", mirror=True, tickvals=[0, 5, 15, 25], tickfont=hfont, ticklen=3)
layout["xaxis9"] = axis(XH2, RXH2, "y9", mirror=True, tickvals=[0, 5, 10, 15], tickfont=dict(size=12.5, family=FONT),
                        ticklen=3, ticklabelstandoff=-3)
layout["yaxis9"] = axis(YH2, RYH2, "x9", mirror=True, tickvals=[0, 5, 15, 25], tickfont=hfont, ticklen=3)
h1x, h1y = [], []
for xv, ys in h_cpm_columns.items():
    for yv in ys:
        h1x.append(xv); h1y.append(yv)
h1x += [p[0] for p in h_cpm_outliers]; h1y += [p[1] for p in h_cpm_outliers]
h2x, h2y = [], []
for xv, ys in h_p_columns.items():
    for yv in ys:
        h2x.append(xv); h2y.append(yv)
h2x += [p[0] for p in h_p_outliers]; h2y += [p[1] for p in h_p_outliers]
fig.add_trace(go.Scatter(x=h1x, y=h1y, mode="markers", cliponaxis=False,
                         marker=dict(size=5, color="#5aa8d8", line=dict(color="#2d6f9f", width=0.6)),
                         xaxis="x8", yaxis="y8", hoverinfo="skip"))
fig.add_trace(go.Scatter(x=h2x, y=h2y, mode="markers", cliponaxis=False,
                         marker=dict(size=5, color="#2f7030", line=dict(color="#1b481b", width=0.6)),
                         xaxis="x9", yaxis="y9", hoverinfo="skip"))
T("<b>(h)</b>", 36, 409, size=11)
T("CCS =", 83, 415, size=14)
L(105, 417, 236, 417, width=1)
T("Counts Per Million", 157, 407, size=12.5, color="#3b8fd0")
T("<i>p</i> Value", 167, 425, size=13, color="#2e7d32")
T(h_rho_cpm, 203, 450, size=11.5, color="#5aa0d8")
T(h_rho_p, 205, 546, size=11.5, color="#2e6b2e")
T("Log counts per million", 154, 527, size=12.5)
T("-log (<i>p</i> Value)", 152, 624, size=12)
T("Combined Calculated", 37, 518, size=13, angle=-90)
T("Score (CCS)", 51, 518, size=13, angle=-90)

# ================= (i) =================
XI, RXI = xdom(273, 677), [-4.2, 5.05]
YI, RYI = ydom(418, 582), [-0.4, 11.15]
layout["xaxis10"] = axis(XI, RXI, "y10", mirror=True, tickvals=[-4, -2, 0, 2, 4], tickfont=dict(size=12, family=FONT))
layout["yaxis10"] = axis(YI, RYI, "x10", mirror=True, tickvals=[0, 2, 4, 6, 8, 10], tickfont=dict(size=12.5, family=FONT))
ccs_scale = [
    [0.00, "#e41a1c"], [0.085, "#e41a1c"], [0.09, "#f47d20"], [0.175, "#f47d20"],
    [0.18, "#e6e31c"], [0.27, "#e6e31c"], [0.28, "#b2d42c"], [0.345, "#b2d42c"],
    [0.35, "#6cb33f"], [0.45, "#6cb33f"], [0.46, "#5fbe97"], [0.52, "#5fbe97"],
    [0.53, "#56a8dc"], [0.62, "#56a8dc"], [0.63, "#3b3c95"], [0.80, "#463092"],
    [0.81, "#7d2e98"], [0.88, "#a12c95"], [0.89, "#e0268a"], [1.00, "#e0268a"],
]
fig.add_trace(go.Scatter(
    x=[p[0] for p in i_points], y=[p[1] for p in i_points], mode="markers", cliponaxis=False,
    marker=dict(symbol="circle-open", size=8, color=[p[2] for p in i_points], colorscale=ccs_scale,
                cmin=0, cmax=30, line=dict(width=2.3),
                colorbar=dict(orientation="h", x=px(593.5), xanchor="center", y=py(443), yanchor="middle",
                              len=(665 - 522) / W, lenmode="fraction", thickness=5, xpad=0, ypad=0,
                              outlinecolor="black", outlinewidth=1, tickvals=i_ccs_ticks, ticks="outside",
                              ticklen=3, tickcolor="black", tickfont=dict(size=12.5, family=FONT),
                              title=dict(text="CCS", side="top", font=dict(size=12.5, family=FONT)))),
    xaxis="x10", yaxis="y10", hoverinfo="skip"))
T("<b>(i)</b>", 251, 408, size=11)
T("-log(FDR)", 252, 493, size=13, angle=-90)
T("Log fold change PD/cont", 460, 611, size=12)

layout["annotations"] = anns
layout["shapes"] = shapes
fig.update_layout(**layout)
fig.write_html("out.html", config={"displayModeBar": False, "staticPlot": True},
               post_script="document.body.style.margin='0';document.body.style.overflow='hidden';")
